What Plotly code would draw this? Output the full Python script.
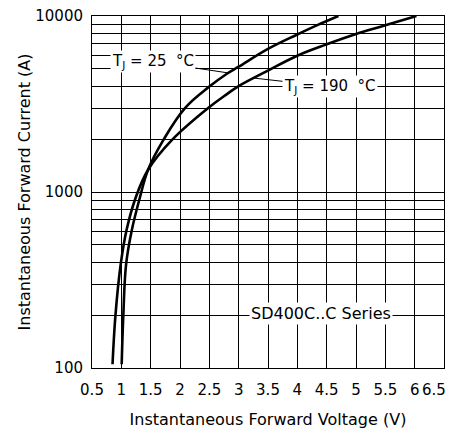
import math
import plotly.graph_objects as go

# forward characteristics (V, A)
v_25 = [1.006, 1.034, 1.082, 1.18, 1.32, 1.454, 1.715, 2.085, 2.5, 2.8, 3.0, 3.5, 4.0, 4.35, 4.70]
i_25 = [105, 200, 390, 610, 940, 1334, 1970, 3000, 3970, 4700, 5150, 6500, 7850, 8900, 10000]

v_190 = [0.85, 0.90, 0.99, 1.09, 1.25, 1.454, 1.86, 2.48, 2.8, 3.0, 3.5, 4.0, 4.5, 5.0, 5.5, 6.03]
i_190 = [105, 200, 390, 610, 940, 1334, 1970, 3000, 3600, 4000, 4900, 5950, 6900, 7900, 8850, 10000]

x_ticks = [0.5, 1, 1.5, 2, 2.5, 3, 3.5, 4, 4.5, 5, 5.5, 6, 6.5]
# last label is drawn separately (right-aligned) so it is not cut at the window edge
x_ticktext = ["0.5", "1", "1.5", "2", "2.5", "3", "3.5", "4", "4.5", "5", "5.5", "6", ""]
x_last_label = "6.5"
y_ticks = [100, 1000, 10000]
y_ticktext = ["100", "1000", "10000"]
y_minor = [200, 300, 400, 500, 600, 700, 800, 900,
           2000, 3000, 4000, 5000, 6000, 7000, 8000, 9000]

FONT = "DejaVu Sans, Arial, sans-serif"
lg = math.log10  # annotations on a log axis take log10 positions

fig = go.Figure()
fig.add_trace(go.Scatter(x=v_25, y=i_25, mode="lines", line=dict(color="black", width=2.6, shape="spline", smoothing=1.1)))
fig.add_trace(go.Scatter(x=v_190, y=i_190, mode="lines", line=dict(color="black", width=2.6, shape="spline", smoothing=1.1)))

# labels with leader lines
fig.add_annotation(x=2.82, y=lg(4750), ax=1.54, ay=lg(5500), axref="x", ayref="y",
                   text="T<sub>J</sub> = 25 &nbsp;°C", showarrow=True, arrowhead=0,
                   arrowwidth=1, arrowcolor="black", bgcolor="white", borderpad=1,
                   font=dict(size=15, color="black", family=FONT))
fig.add_annotation(x=3.23, y=lg(4450), ax=4.557, ay=lg(3966), axref="x", ayref="y",
                   text="T<sub>J</sub> = 190 &nbsp;°C", showarrow=True, arrowhead=0,
                   arrowwidth=1, arrowcolor="black", bgcolor="white", borderpad=1,
                   font=dict(size=15, color="black", family=FONT))
fig.add_annotation(x=4.40, y=lg(205), text="SD400C..C Series", showarrow=False,
                   bgcolor="white", borderpad=1,
                   font=dict(size=16, color="black", family=FONT))
fig.add_annotation(x=x_ticks[-1], y=0, yref="paper", text=x_last_label, showarrow=False,
                   xanchor="right", yanchor="middle", xshift=3, yshift=-22, borderpad=0,
                   font=dict(size=15, color="black", family=FONT))

fig.update_xaxes(range=[0.5, 6.5], tickvals=x_ticks, ticktext=x_ticktext,
                 showgrid=True, gridcolor="black", gridwidth=1,
                 showline=True, linecolor="black", linewidth=1, mirror=True,
                 zeroline=False, ticks="", automargin=False, ticklabeloverflow="allow",
                 ticklabelstandoff=8,
                 tickfont=dict(size=15, color="black", family=FONT),
                 title=dict(text="Instantaneous Forward Voltage (V)", standoff=17,
                            font=dict(size=16, color="black", family=FONT)))
fig.update_yaxes(type="log", range=[2, 4], tickvals=y_ticks, ticktext=y_ticktext,
                 showgrid=True, gridcolor="black", gridwidth=1,
                 minor=dict(tickvals=y_minor, showgrid=True, gridcolor="black", gridwidth=1, ticks=""),
                 showline=True, linecolor="black", linewidth=1, mirror=True,
                 zeroline=False, ticks="", ticklabelstandoff=5, automargin=False,
                 ticklabeloverflow="allow",
                 tickfont=dict(size=15, color="black", family=FONT),
                 title=dict(text="Instantaneous Forward Current (A)", standoff=0,
                            font=dict(size=16, color="black", family=FONT)))

# page body adds an 8px margin all round, so size the figure to fit the window
fig.update_layout(width=446, height=421, showlegend=False,
                  margin=dict(l=84, r=10, t=8, b=61),
                  plot_bgcolor="white", paper_bgcolor="white")

fig.write_html("out.html")
